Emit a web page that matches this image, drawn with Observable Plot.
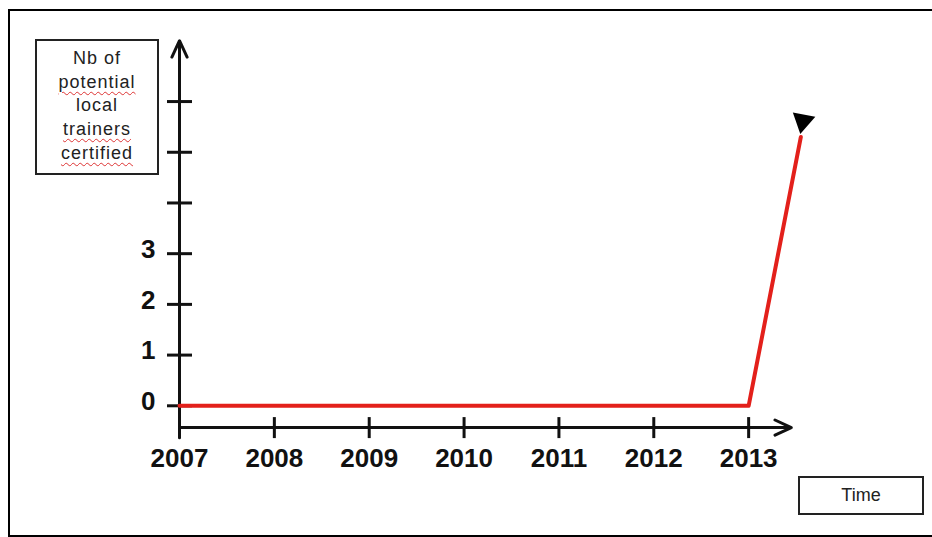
<!DOCTYPE html>
<html>
<head>
<meta charset="utf-8">
<script src="https://cdn.jsdelivr.net/npm/d3@7"></script>
<script src="https://cdn.jsdelivr.net/npm/@observablehq/plot@0.6"></script>
<style>
  body { margin: 0; background: #fff; }
  #wrap { position: relative; width: 932px; height: 537px; overflow: hidden; font-family: "Liberation Sans", Arial, sans-serif; }
  #border { position: absolute; left: 8px; top: 9px; width: 960px; height: 528px; box-sizing: border-box; border: 2px solid #000; border-right: none; }
  #chart { position: absolute; left: 0; top: 0; }
  .box { position: absolute; box-sizing: border-box; border: 2px solid #222; background: #fff; text-align: center; font-size: 18px; color: #222; }
  #ylab { left: 35px; top: 39px; width: 124px; height: 136px; line-height: 23.7px; letter-spacing: 1px; padding-top: 6px; }
  .sq { text-decoration: underline wavy #d33; text-decoration-thickness: 1px; text-underline-offset: 3px; }
  #xlab { left: 798px; top: 476px; width: 126px; height: 39px; line-height: 35px; }
</style>
</head>
<body>
<div id="wrap">
  <div id="border"></div>
  <div id="chart"></div>
  <div class="box" id="ylab">Nb of<br><span class="sq">potential</span><br>local<br><span class="sq">trainers</span><br><span class="sq">certified</span></div>
  <div class="box" id="xlab">Time</div>
</div>
<script>
// ---- data ----
const years = [2007, 2008, 2009, 2010, 2011, 2012, 2013];
const trainers = [0, 0, 0, 0, 0, 0, 0];
const projectionYear = 2013.55;   // end of the steep rise
const projectionValue = 5.3;
const xTickLabels = ["2007", "2008", "2009", "2010", "2011", "2012", "2013"];
const yTicks = [0, 1, 2, 3, 4, 5, 6];
const yTickLabels = ["0", "1", "2", "3", "", "", ""];
// axis extents (data units)
const xAxisValue = -0.43;   // y value where the time axis sits
const yAxisBottom = -0.63;
const yAxisTop = 7.2;
const xAxisEnd = 2013.45;

const lineX = [...years, projectionYear];
const lineY = [...trainers, projectionValue];
const series = lineX.map((x, i) => ({x, y: lineY[i]}));

const hbar = {draw(ctx, size) { const r = Math.sqrt(size / Math.PI); ctx.moveTo(-r, 0); ctx.lineTo(r, 0); }};
const vbar = {draw(ctx, size) { const r = Math.sqrt(size / Math.PI); ctx.moveTo(0, -r); ctx.lineTo(0, r); }};

const ink = "#111";
const chart = Plot.plot({
  width: 932,
  height: 537,
  marginLeft: 179,
  marginRight: 89,
  marginTop: 25,
  marginBottom: 81,
  x: {domain: [2007, 2014], axis: null},
  y: {domain: [-1, 7.5], axis: null},
  style: {background: "transparent", fontFamily: "'Liberation Sans', Arial, sans-serif", overflow: "visible"},
  marks: [
    // vertical axis with arrow
    Plot.arrow([{x1: years[0], y1: yAxisBottom, x2: years[0], y2: yAxisTop}],
      {x1: "x1", y1: "y1", x2: "x2", y2: "y2", stroke: ink, strokeWidth: 3, headLength: 9, headAngle: 50}),
    // horizontal axis with arrow
    Plot.arrow([{x1: years[0], y1: xAxisValue, x2: xAxisEnd, y2: xAxisValue}],
      {x1: "x1", y1: "y1", x2: "x2", y2: "y2", stroke: ink, strokeWidth: 3, headLength: 9, headAngle: 50}),
    // y ticks
    Plot.dot(yTicks, {x: () => years[0], y: d => d, symbol: hbar, r: 12.5, stroke: ink, strokeWidth: 3, fill: "none"}),
    // x ticks
    Plot.dot(years, {x: d => d, y: () => xAxisValue, symbol: vbar, r: 10.5, stroke: ink, strokeWidth: 3, fill: "none"}),
    // y tick labels
    Plot.text(yTicks, {x: () => years[0], y: d => d, text: (d, i) => yTickLabels[i], textAnchor: "end", dx: -24, dy: -4,
      fontSize: 26, fontWeight: "bold", fill: ink}),
    // x tick labels
    Plot.text(years, {x: d => d, y: () => xAxisValue, text: (d, i) => xTickLabels[i], dy: 31,
      fontSize: 26, fontWeight: "bold", fill: ink}),
    // red series
    Plot.line(series, {x: "x", y: "y", stroke: "#e3201b", strokeWidth: 4}),
    // black triangle at the end
    Plot.dot(series.slice(-1), {x: "x", y: "y", symbol: "triangle", rotate: 191, r: 8.5, fill: "#000", dx: 2, dy: -16})
  ]
});
document.getElementById("chart").append(chart);
</script>
</body>
</html>
